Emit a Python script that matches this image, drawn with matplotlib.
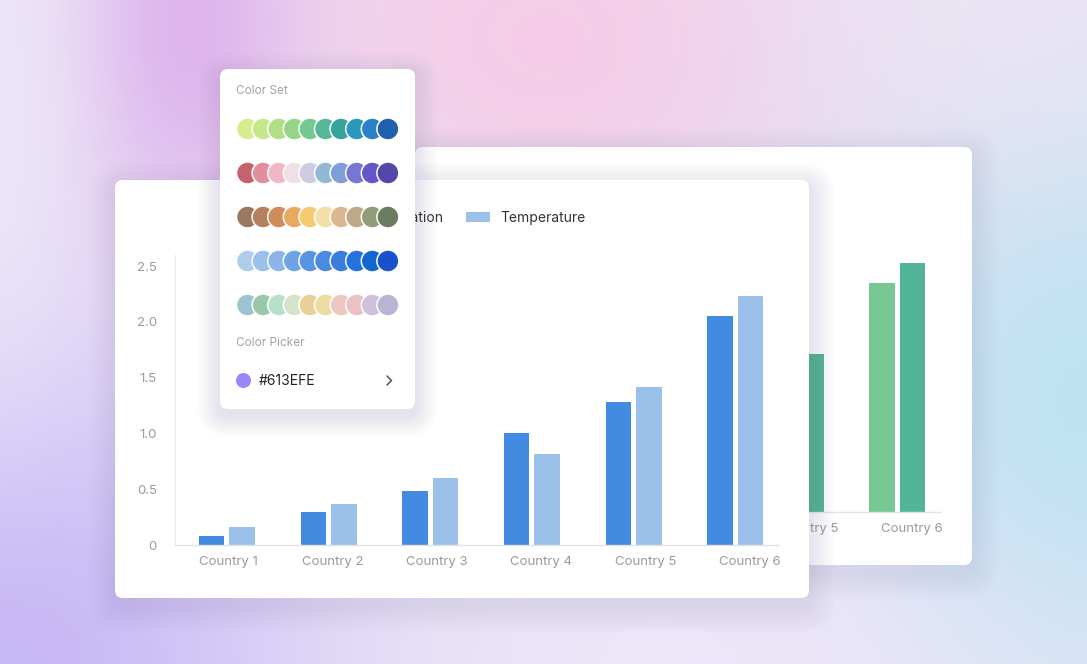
import numpy as np
import matplotlib
matplotlib.use('Agg')
import matplotlib.pyplot as plt
from matplotlib.patches import FancyBboxPatch, Circle, Rectangle
from matplotlib.colors import to_rgb

plt.rcParams['font.family'] = ['Inter', 'DejaVu Sans']

# ---- data ----
countries = ['Country 1', 'Country 2', 'Country 3', 'Country 4', 'Country 5', 'Country 6']
population = [0.08, 0.30, 0.48, 1.00, 1.28, 2.05]
temperature = [0.16, 0.37, 0.60, 0.82, 1.42, 2.23]
series_names = ['Population', 'Temperature']
y_ticks = [0, 0.5, 1.0, 1.5, 2.0, 2.5]
y_tick_labels = ['0', '0.5', '1.0', '1.5', '2.0', '2.5']

front_colors = ['#428be0', '#9bc0ea']
back_colors = ['#77c893', '#52b59a']

palette_rows = [
    ['#d6ed8e', '#c5e88a', '#b0df86', '#96d585', '#74c891', '#54b797', '#38a29d', '#2a98bd', '#2c80c8', '#2160ae'],
    ['#c4626e', '#e0909c', '#f0b8c6', '#f0dfe5', '#cfcbe0', '#92b9d4', '#7e9fdb', '#7676d4', '#6456c8', '#5347a8'],
    ['#9c7860', '#b58160', '#d08c5c', '#e8aa60', '#f6ca70', '#f2dea8', '#dcb890', '#bea888', '#929c78', '#6c7c60'],
    ['#aecdea', '#9cc0ec', '#8cb4ea', '#6ea4e6', '#5894e2', '#4a8ae0', '#3a7edd', '#2472e2', '#1266d0', '#1a50cc'],
    ['#9cc4d0', '#98c8a8', '#b4e0cc', '#d4e4c8', '#e8d098', '#ecdca0', '#ecc8c0', '#ecc0c4', '#ccc0dc', '#b8b4d4'],
]
picker_hex = '#613EFE'
picker_dot = '#9a86f9'

W, H = 1087, 664
fig = plt.figure(figsize=(W / 100, H / 100), dpi=100)


def overlay(z):
    ax = fig.add_axes([0, 0, 1, 1])
    ax.set_xlim(0, W)
    ax.set_ylim(H, 0)
    ax.axis('off')
    ax.patch.set_alpha(0)
    ax.set_zorder(z)
    return ax


def px_axes(x0, y0, x1, y1, z):
    ax = fig.add_axes([x0 / W, 1 - y1 / H, (x1 - x0) / W, (y1 - y0) / H])
    ax.set_zorder(z)
    ax.patch.set_alpha(0)
    return ax


def card(ax, x, y, w, h, r=8):
    ax.add_patch(FancyBboxPatch((x, y), w, h, boxstyle=f'round,pad=0,rounding_size={r}',
                                fc='white', ec='none'))


def shadow(ax, x, y, w, h, r=8, spread=26, dy=8, a=0.006, steps=14):
    for i in range(steps):
        p = spread * (i + 1) / steps
        ax.add_patch(FancyBboxPatch((x - p, y - p + dy), w + 2 * p, h + 2 * p,
                                    boxstyle=f'round,pad=0,rounding_size={r + p}',
                                    fc=(0.40, 0.38, 0.48), ec='none', alpha=a))


# ---- background gradient ----
ax_bg = overlay(0)
yy, xx = np.mgrid[0:H, 0:W]
img = np.ones((H, W, 3)) * np.array(to_rgb('#ece6f7'))
blobs = [
    (560, 40, 340, 240, '#f5cbe6', 0.95),
    (190, 20, 110, 220, '#dcb0ec', 0.9),
    (1087, 400, 250, 320, '#bde2f3', 0.95),
    (1000, 0, 220, 160, '#ece6f3', 0.7),
    (0, 664, 320, 320, '#c5b5f6', 0.95),
    (0, 150, 70, 260, '#ede7fb', 0.7),
    (720, 664, 260, 130, '#efe6fa', 0.7),
]
for cx, cy, sx, sy, col, s in blobs:
    a = s * np.exp(-(((xx - cx) / sx) ** 2 + ((yy - cy) / sy) ** 2))
    img = img * (1 - a[..., None]) + np.array(to_rgb(col)) * a[..., None]
ax_bg.imshow(img, extent=(0, W, H, 0), aspect='auto', zorder=0)

# back card
shadow(ax_bg, 415, 147, 557, 418)
card(ax_bg, 415, 147, 557, 418)

idx = np.arange(len(countries))
bw = 0.25
off = 0.15
tick_pos = idx * 1.026 + 0.015


def style_axes(ax, show_y):
    ax.set_xlim(-0.51, 5.42)
    ax.set_ylim(0, 2.6)
    for s in ['top', 'right']:
        ax.spines[s].set_visible(False)
    ax.spines['bottom'].set_color('#e2e2e2')
    ax.spines['bottom'].set_linewidth(1.0)
    ax.set_xticks(tick_pos)
    ax.set_xticklabels(countries, fontsize=9.5, color='#9a9a9a')
    ax.tick_params(axis='x', length=0, pad=8)
    if show_y:
        ax.spines['left'].set_color('#ececec')
        ax.set_yticks(y_ticks)
        ax.set_yticklabels(y_tick_labels, fontsize=9.5, color='#9a9a9a')
        ax.tick_params(axis='y', length=0, pad=13)
    else:
        ax.spines['left'].set_visible(False)
        ax.set_yticks([])


# back chart
ax_back = px_axes(338, 222, 940, 512, 1)
ax_back.bar(idx - off, population, bw, color=back_colors[0])
ax_back.bar(idx + off, temperature, bw, color=back_colors[1])
style_axes(ax_back, False)

# front card
ax_mid = overlay(2)
shadow(ax_mid, 115, 180, 694, 418)
card(ax_mid, 115, 180, 694, 418)

# legend
ax_mid.add_patch(Rectangle((466, 212), 24, 10, fc=front_colors[1], ec='none'))
ax_mid.text(500, 218, series_names[1], fontsize=10, color='#333333', va='center', ha='left')
ax_mid.add_patch(Rectangle((340, 212), 24, 10, fc=front_colors[0], ec='none'))
ax_mid.text(444, 218, series_names[0], fontsize=10, color='#333333', va='center', ha='right')

# front chart
ax_front = px_axes(175, 255, 778, 545, 3)
ax_front.bar(idx - off, population, bw, color=front_colors[0])
ax_front.bar(idx + off, temperature, bw, color=front_colors[1])
style_axes(ax_front, True)

# ---- color panel ----
ax_top = overlay(4)
shadow(ax_top, 220, 69, 195, 340, spread=22, dy=6, a=0.007)
card(ax_top, 220, 69, 195, 340)
ax_top.text(236, 91, 'Color Set', fontsize=8.5, color='#a3a3a3', va='center', ha='left')
for r, row in enumerate(palette_rows):
    cy = 129 + 44 * r
    for i, col in enumerate(row):
        ax_top.add_patch(Circle((247.5 + 15.6 * i, cy), 11, fc=col, ec='white', lw=1.1))
ax_top.text(236, 343, 'Color Picker', fontsize=8.5, color='#a3a3a3', va='center', ha='left')
ax_top.add_patch(Circle((243.5, 380.5), 7.5, fc=picker_dot, ec='none'))
ax_top.text(259, 381, picker_hex, fontsize=10, color='#222222', va='center', ha='left')
ax_top.plot([387, 391.5, 387], [376, 380.5, 385], color='#555555', lw=1.1,
            solid_capstyle='round', solid_joinstyle='round')

fig.savefig('out.png', dpi=100)
